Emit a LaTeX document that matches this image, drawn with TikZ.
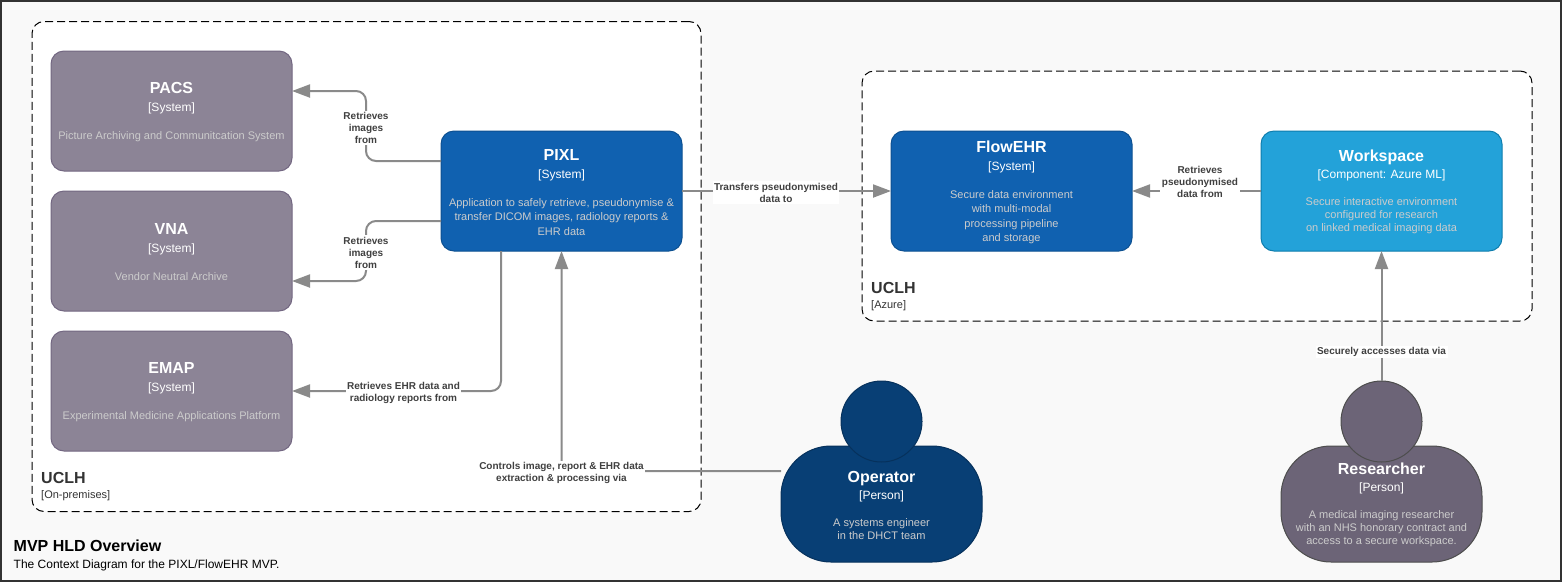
\documentclass[tikz,border=0pt]{standalone}
\usepackage{fontspec}
\setmainfont{Liberation Sans}
\usetikzlibrary{arrows.meta}

\definecolor{extfill}{HTML}{8C8496}
\definecolor{extline}{HTML}{736782}
\definecolor{sysfill}{HTML}{1061B0}
\definecolor{sysline}{HTML}{0D5091}
\definecolor{compfill}{HTML}{23A2D9}
\definecolor{compline}{HTML}{0E7DAD}
\definecolor{opfill}{HTML}{083F75}
\definecolor{opline}{HTML}{06315C}
\definecolor{resfill}{HTML}{6C6477}
\definecolor{resline}{HTML}{4D4D4D}
\definecolor{descgrey}{HTML}{CCCCCC}
\definecolor{linegrey}{HTML}{8A8A8A}
\definecolor{canvasgrey}{HTML}{F9F9F9}

\tikzstyle{line} = [draw=linegrey, line width=2pt, rounded corners=10pt, -{Triangle[length=18pt,width=13pt]}]
\tikzstyle{box} = [rectangle, rounded corners=13pt, line width=1pt, inner sep=0pt, outer sep=0pt, minimum width=241pt, minimum height=120pt, align=center, text=descgrey, font=\boxfont]
\tikzstyle{lbl} = [fill=white, inner sep=1.5pt, align=center, text=black!75, font=\lblfont]
\tikzstyle{zone} = [draw=black, fill=white, rectangle, rounded corners=12pt, line width=1pt, dash pattern=on 8pt off 4pt, inner sep=0pt]
\tikzstyle{body} = [rectangle, rounded corners=50pt, line width=1pt, inner sep=0pt, outer sep=0pt, minimum width=201pt, minimum height=116pt, align=center, text=descgrey, font=\personfont]
\tikzstyle{head} = [circle, line width=1pt, inner sep=0pt, outer sep=0pt, minimum size=81pt]
\tikzstyle{zonename} = [anchor=west, inner sep=0pt, align=left, text=black!80, font=\personfont]

\newcommand{\boxfont}{\fontsize{11}{14.5}\selectfont}
\newcommand{\personfont}{\fontsize{11}{13}\selectfont}
\newcommand{\lblfont}{\fontsize{10}{12}\selectfont\bfseries}
\newcommand{\titletext}[1]{\rule{0pt}{14pt}{\color{white}\fontsize{16}{16}\selectfont\bfseries #1}}
\newcommand{\kindtext}[1]{{\color{white}\fontsize{12}{12}\selectfont[#1]}}
\newcommand{\boxtext}[3]{\titletext{#1}\\[3.5pt]\kindtext{#2}\\[13.5pt]#3}
\newcommand{\persontext}[3]{\titletext{#1}\\[4pt]\kindtext{#2}\\[14pt]#3}

\begin{document}
\begin{tikzpicture}[x=1pt,y=-1pt]
		\useasboundingbox (0,0) rectangle (1562,582);
		\node[rectangle,draw=black!80,fill=canvasgrey,line width=2pt,minimum width=1560pt,minimum height=580pt,inner sep=0pt](canvas) at (781,291) {};

		%boundaries
		\node[zone,minimum width=669pt,minimum height=490pt](onprem) at (366.5,266.5) {};
		\node[zone,minimum width=670pt,minimum height=250pt](azure) at (1197,196) {};
		\node[zonename](onpremname) at (41,486.5) {{\fontsize{16}{16}\selectfont\bfseries UCLH}\\[2.5pt][On-premises]};
		\node[zonename](azurename) at (871,296.5) {{\fontsize{16}{16}\selectfont\bfseries UCLH}\\[2.5pt][Azure]};

		%systems
		\node[box,fill=extfill,draw=extline](pacs) at (171.5,111) {\boxtext{PACS}{System}{Picture Archiving and Communitcation System}};
		\node[box,fill=extfill,draw=extline](vna) at (171.5,251) {\boxtext{VNA}{System}{Vendor Neutral Archive}};
		\node[box,fill=extfill,draw=extline](emap) at (171.5,391) {\boxtext{EMAP}{System}{Experimental Medicine Applications Platform}};
		\node[box,fill=sysfill,draw=sysline](pixl) at (561.5,191) {\boxtext{PIXL}{System}{Application to safely retrieve, pseudonymise \&\\transfer DICOM images, radiology reports \&\\EHR data}};
		\node[box,fill=sysfill,draw=sysline](flowehr) at (1011.5,191) {\boxtext{FlowEHR}{System}{Secure data environment\\with multi-modal\\processing pipeline\\and storage}};
		\node[box,fill=compfill,draw=compline,font=\personfont](workspace) at (1381.5,191) {\persontext{Workspace}{Component: Azure ML}{Secure interactive environment\\configured for research\\on linked medical imaging data}};

		%people
		\node[body,fill=opfill,draw=opline](operator) at (881.5,504) {\persontext{Operator}{Person}{A systems engineer\\in the DHCT team}};
		\node[head,fill=opfill,draw=opline](operatorhead) at (881.5,421.5) {};
		\node[body,fill=resfill,draw=resline](researcher) at (1381.5,504) {\persontext{Researcher}{Person}{A medical imaging researcher\\with an NHS honorary contract and\\access to a secure workspace.}};
		\node[head,fill=resfill,draw=resline](researcherhead) at (1381.5,421.5) {};

		%bends
		\coordinate (pacsbend) at (366,128);
		\coordinate (vnabend) at (366,252.5);

		%arrows
		\draw[line] ([yshift=30pt]pixl.west) -| (pacsbend) |- ([yshift=20pt]pacs.east);
		\draw[line] ([yshift=-30pt]pixl.west) -| (vnabend) |- ([yshift=-30pt]vna.east);
		\draw[line] ([xshift=-60.5pt]pixl.south) |- (emap.east);
		\draw[line] ([yshift=33pt]operator.west) -| (pixl.south);
		\draw[line] (pixl.east) -- (flowehr.west);
		\draw[line] (workspace.west) -- (flowehr.east);
		\draw[line] (researcherhead.north) -- (workspace.south);

		%labels
		\node[lbl](pacslabel) at (pacsbend) {Retrieves\\images\\from};
		\node[lbl](vnalabel) at (vnabend) {Retrieves\\images\\from};
		\node[lbl](emaplabel) at (403.5,392.5) {Retrieves EHR data and\\radiology reports from};
		\node[lbl](operatorlabel) at (561.5,473) {Controls image, report \& EHR data\\extraction \& processing via};
		\node[lbl](flowlabel) at (776,192.5) {Transfers pseudonymised\\data to};
		\node[lbl](worklabel) at (1200,182) {Retrieves\\pseudonymised\\data from};
		\node[lbl](researcherlabel) at (1381.5,352) {Securely accesses data via};

		%title
		\node[anchor=west,inner sep=0pt,font=\fontsize{16}{16}\selectfont\bfseries](diagramtitle) at (13.5,546) {MVP HLD Overview};
		\node[anchor=west,inner sep=0pt,font=\fontsize{12}{12}\selectfont](diagramsub) at (13.5,565) {The Context Diagram for the PIXL/FlowEHR MVP.};
\end{tikzpicture}
\end{document}
